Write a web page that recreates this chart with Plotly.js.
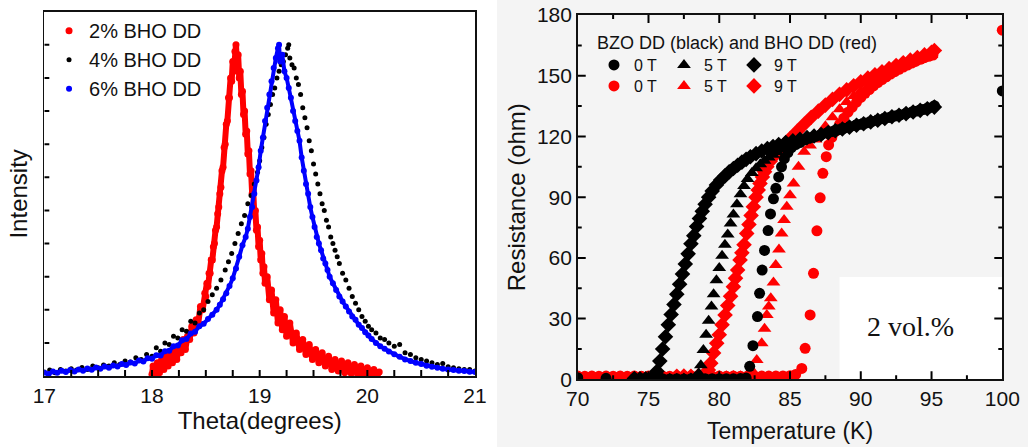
<!DOCTYPE html>
<html>
<head>
<meta charset="utf-8">
<script src="https://cdn.plot.ly/plotly-3.0.1.min.js"></script>
<style>html,body{margin:0;padding:0;background:#fff;}#chart{width:1028px;height:447px;}</style>
</head>
<body>
<div id="chart"></div>
<script>
// ---------- Left panel: XRD peaks (Theta in degrees, normalized intensity) ----------
const bho2pct = [[18.00,0.005],[18.01,0.03],[18.03,0.00],[18.05,0.04],[18.07,0.01],[18.09,0.05],[18.11,0.02],[18.13,0.06],[18.15,0.03],[18.17,0.07],[18.19,0.04],[18.21,0.08],[18.23,0.05],[18.25,0.09],[18.27,0.07],[18.29,0.11],[18.31,0.08],[18.33,0.12],[18.35,0.11],[18.37,0.15],[18.39,0.13],[18.41,0.17],[18.43,0.16],[18.45,0.21],[18.47,0.20],[18.49,0.25],[18.50,0.24],[18.51,0.28],[18.52,0.27],[18.53,0.31],[18.54,0.31],[18.55,0.35],[18.56,0.35],[18.57,0.39],[18.58,0.40],[18.59,0.44],[18.60,0.45],[18.61,0.49],[18.62,0.51],[18.63,0.55],[18.64,0.57],[18.65,0.62],[18.66,0.63],[18.67,0.69],[18.68,0.70],[18.69,0.76],[18.70,0.77],[18.71,0.84],[18.72,0.84],[18.73,0.90],[18.74,0.89],[18.75,0.95],[18.76,0.92],[18.77,0.98],[18.78,1.00],[18.79,0.94],[18.80,0.97],[18.81,0.90],[18.82,0.92],[18.83,0.85],[18.84,0.86],[18.85,0.79],[18.86,0.80],[18.87,0.73],[18.88,0.74],[18.89,0.67],[18.90,0.68],[18.91,0.61],[18.92,0.62],[18.93,0.55],[18.94,0.56],[18.95,0.49],[18.96,0.50],[18.97,0.44],[18.98,0.45],[18.99,0.39],[19.00,0.41],[19.01,0.35],[19.02,0.37],[19.03,0.31],[19.04,0.33],[19.05,0.28],[19.07,0.30],[19.09,0.23],[19.11,0.26],[19.13,0.19],[19.15,0.23],[19.17,0.16],[19.19,0.20],[19.21,0.14],[19.23,0.18],[19.25,0.12],[19.28,0.16],[19.31,0.10],[19.34,0.13],[19.37,0.08],[19.40,0.11],[19.43,0.065],[19.46,0.095],[19.49,0.05],[19.52,0.08],[19.55,0.04],[19.58,0.07],[19.61,0.03],[19.64,0.06],[19.67,0.02],[19.70,0.05],[19.73,0.015],[19.76,0.045],[19.79,0.01],[19.82,0.04],[19.85,0.008],[19.88,0.035],[19.91,0.005],[19.94,0.03],[19.97,0.005],[20.00,0.025],[20.03,0.003],[20.06,0.02],[20.09,0.002],[20.11,0.012]];

const bho4pct = [[17.00,0.012],[17.05,0.018],[17.10,0.010],[17.15,0.020],[17.20,0.015],[17.25,0.022],[17.30,0.018],[17.35,0.026],[17.40,0.020],[17.45,0.030],[17.50,0.025],[17.55,0.033],[17.60,0.030],[17.65,0.040],[17.70,0.035],[17.75,0.045],[17.80,0.042],[17.85,0.055],[17.90,0.050],[17.95,0.065],[18.00,0.060],[18.04,0.085],[18.08,0.075],[18.12,0.100],[18.16,0.095],[18.20,0.120],[18.24,0.115],[18.28,0.140],[18.32,0.135],[18.36,0.165],[18.40,0.160],[18.44,0.190],[18.48,0.200],[18.52,0.225],[18.56,0.245],[18.60,0.265],[18.64,0.290],[18.68,0.320],[18.71,0.345],[18.74,0.370],[18.77,0.400],[18.80,0.430],[18.83,0.460],[18.86,0.485],[18.89,0.520],[18.92,0.545],[18.95,0.580],[18.98,0.615],[19.00,0.650],[19.02,0.690],[19.04,0.720],[19.06,0.760],[19.08,0.790],[19.10,0.820],[19.12,0.850],[19.14,0.870],[19.16,0.900],[19.18,0.920],[19.20,0.940],[19.22,0.950],[19.24,0.970],[19.26,0.990],[19.27,1.000],[19.28,0.960],[19.30,0.940],[19.32,0.930],[19.34,0.900],[19.36,0.880],[19.38,0.850],[19.40,0.810],[19.42,0.780],[19.44,0.750],[19.46,0.710],[19.48,0.680],[19.50,0.640],[19.52,0.610],[19.54,0.580],[19.56,0.550],[19.58,0.520],[19.60,0.500],[19.62,0.470],[19.64,0.450],[19.66,0.420],[19.68,0.400],[19.70,0.380],[19.72,0.360],[19.74,0.340],[19.77,0.310],[19.80,0.290],[19.83,0.265],[19.86,0.240],[19.89,0.220],[19.92,0.200],[19.95,0.180],[19.98,0.165],[20.01,0.150],[20.04,0.140],[20.08,0.130],[20.12,0.115],[20.16,0.110],[20.20,0.100],[20.25,0.090],[20.30,0.095],[20.35,0.070],[20.40,0.065],[20.45,0.055],[20.50,0.050],[20.55,0.045],[20.60,0.040],[20.65,0.035],[20.70,0.038],[20.75,0.028],[20.80,0.025],[20.85,0.022],[20.90,0.020],[20.95,0.020],[21.00,0.015]];

const bho6pct = [[17.00,0.010],[17.04,0.006],[17.08,0.014],[17.12,0.010],[17.16,0.016],[17.20,0.012],[17.24,0.018],[17.28,0.014],[17.32,0.020],[17.36,0.016],[17.40,0.023],[17.44,0.019],[17.48,0.026],[17.52,0.022],[17.56,0.029],[17.60,0.025],[17.64,0.032],[17.68,0.029],[17.72,0.036],[17.76,0.033],[17.80,0.041],[17.84,0.038],[17.88,0.047],[17.92,0.044],[17.96,0.054],[18.00,0.052],[18.04,0.063],[18.08,0.062],[18.12,0.075],[18.16,0.076],[18.20,0.090],[18.24,0.092],[18.28,0.108],[18.32,0.112],[18.36,0.128],[18.40,0.134],[18.44,0.150],[18.48,0.158],[18.52,0.172],[18.56,0.185],[18.60,0.200],[18.63,0.215],[18.66,0.232],[18.69,0.250],[18.72,0.272],[18.75,0.295],[18.78,0.325],[18.81,0.360],[18.84,0.395],[18.87,0.420],[18.89,0.445],[18.91,0.480],[18.93,0.510],[18.95,0.550],[18.97,0.590],[18.99,0.630],[19.01,0.680],[19.03,0.720],[19.05,0.770],[19.07,0.810],[19.09,0.850],[19.11,0.890],[19.13,0.930],[19.15,0.960],[19.17,0.990],[19.18,1.000],[19.19,0.950],[19.21,0.970],[19.23,0.920],[19.25,0.900],[19.27,0.870],[19.29,0.840],[19.31,0.800],[19.33,0.770],[19.35,0.740],[19.37,0.710],[19.39,0.660],[19.41,0.620],[19.43,0.580],[19.45,0.550],[19.47,0.510],[19.49,0.480],[19.51,0.450],[19.53,0.420],[19.55,0.400],[19.57,0.380],[19.59,0.355],[19.61,0.340],[19.63,0.320],[19.65,0.300],[19.68,0.280],[19.71,0.260],[19.74,0.240],[19.77,0.225],[19.80,0.210],[19.83,0.195],[19.86,0.180],[19.89,0.170],[19.92,0.155],[19.95,0.145],[19.98,0.132],[20.01,0.122],[20.04,0.112],[20.08,0.100],[20.12,0.090],[20.16,0.082],[20.20,0.074],[20.25,0.066],[20.30,0.058],[20.35,0.050],[20.40,0.045],[20.45,0.040],[20.50,0.036],[20.55,0.031],[20.60,0.028],[20.65,0.025],[20.70,0.022],[20.75,0.020],[20.80,0.018],[20.85,0.016],[20.90,0.015],[20.95,0.013],[21.00,0.012]];

const xrdNames = ['2% BHO DD', '4% BHO DD', '6% BHO DD'];
const thetaTicks = [17, 18, 19, 20, 21];
const thetaMinorStep = 0.25;
const intensityTicks = [0.1, 0.2, 0.3, 0.4, 0.5, 0.6, 0.7, 0.8, 0.9, 1.0];

// ---------- Right panel: R(T) curves (Temperature K, Resistance ohm) ----------
const bzo0T = [[70.0,0.8],[72.0,0.5],[74.0,0.4],[74.5,0.3],[75.0,0.3],[75.5,0.2],[76.0,0.3],[76.5,0.2],[77.0,0.3],[77.5,0.2],[78.0,0.3],[78.5,0.3],[79.0,0.3],[79.5,0.3],[80.0,0.3],[80.5,0.3],[81.0,0.3],[81.5,0.4],[81.9,0.6],[82.15,6.4],[82.38,16.6],[82.7,31],[82.85,42.5],[83.03,54],[83.2,63.7],[83.45,73.5],[83.62,81.7],[83.83,89.2],[84.0,94.4],[84.2,100],[84.4,105],[84.6,109],[84.85,112],[85.1,114.5],[85.4,116],[85.7,117],[86.0,118.3],[86.4,119.2],[86.8,120],[87.2,120.9],[87.6,121.7],[88.0,122.5],[88.4,123.3],[88.8,124],[89.2,124.7],[89.6,125.4],[90.0,126],[90.4,126.7],[90.8,127.4],[91.2,128.1],[91.6,128.8],[92.0,129.4],[92.4,130.1],[92.8,130.7],[93.2,131.3],[93.6,132],[94.0,132.6],[94.4,133.3],[94.8,134],[95.2,135.2],[100.0,142.5]];

const bzo5T = [[75.0,0.4],[75.5,0.3],[76.0,0.3],[76.5,0.3],[77.0,0.3],[77.5,0.4],[78.0,0.5],[78.3,1.2],[78.55,3],[78.7,7],[78.88,14.5],[79.07,22],[79.25,29],[79.45,36],[79.6,42],[79.8,49],[80.0,55],[80.2,61],[80.4,66.5],[80.6,71.5],[80.8,77],[81.0,81.5],[81.25,86.5],[81.5,91.5],[81.75,95.5],[82.0,99],[82.3,102],[82.6,104.3],[82.9,106.3],[83.2,108],[83.5,109.6],[83.8,111],[84.1,112.3],[84.5,113.8],[85.0,115.5],[85.5,116.8],[86.0,118],[86.5,119.3],[87.0,120.5],[87.5,121.5],[88.0,122.5],[88.5,123.5],[89.0,124.3],[89.5,125.2],[90.0,126],[90.5,126.9],[91.0,127.8],[91.5,128.6],[92.0,129.4],[92.5,130.2],[93.0,131],[93.5,131.8],[94.0,132.6],[94.5,133.4],[95.0,134.2]];

const bzo9T = [[74.0,0.4],[74.4,0.3],[74.8,0.3],[75.2,0.5],[75.45,1.5],[75.6,4],[75.8,9],[76.0,15],[76.2,21],[76.4,27],[76.6,32],[76.8,37],[77.0,42],[77.2,47],[77.4,52],[77.6,57],[77.8,62],[78.0,67],[78.2,71],[78.4,75.5],[78.6,79.5],[78.8,83],[79.0,86.5],[79.25,90],[79.5,93],[79.8,96],[80.1,98.5],[80.4,100.5],[80.7,102.5],[81.0,104.2],[81.3,105.8],[81.6,107.3],[81.9,108.7],[82.2,110],[82.6,111.5],[83.0,112.8],[83.4,114],[83.8,115],[84.2,116],[84.7,117],[85.2,117.8],[85.7,118.6],[86.2,119.4],[86.7,120.2],[87.2,121],[87.7,121.9],[88.2,122.8],[88.7,123.7],[89.2,124.6],[89.7,125.5],[90.2,126.3],[90.7,127.2],[91.2,128],[91.7,128.9],[92.2,129.7],[92.7,130.5],[93.2,131.3],[93.7,132.1],[94.2,132.9],[94.7,133.7],[95.2,134.5]];

const bho0T = [[70.0,1.6],[70.5,1.5],[71.0,1.6],[71.5,1.5],[72.0,1.6],[72.5,1.5],[73.0,1.6],[73.5,1.5],[74.0,1.6],[74.5,1.5],[75.0,1.6],[75.5,1.5],[76.0,1.6],[76.5,1.5],[77.0,1.6],[77.5,1.5],[78.0,1.6],[78.5,1.5],[79.0,1.6],[79.5,1.5],[80.0,1.6],[80.5,1.5],[81.0,1.6],[81.5,1.5],[82.0,1.6],[82.5,1.5],[83.0,1.6],[83.5,1.6],[84.0,1.6],[84.5,1.7],[85.0,1.8],[85.4,2.4],[85.83,5.4],[86.07,15.3],[86.42,31.8],[86.66,52.4],[86.9,73.4],[87.13,89.7],[87.32,101.8],[87.56,110],[87.73,115.8],[87.95,119.5],[88.2,122.5],[88.5,126],[88.8,129],[89.1,132],[89.4,134.5],[89.7,137],[90.0,139.3],[90.3,141.3],[90.6,143.2],[90.9,145],[91.2,146.6],[91.5,148.1],[91.8,149.5],[92.1,150.8],[92.4,152],[92.7,153.2],[93.0,154.3],[93.3,155.3],[93.6,156.3],[93.9,157.2],[94.2,158.1],[94.5,158.9],[94.8,159.6],[95.1,160.2],[100.0,172.5]];

const bho5T = [[79.5,1.5],[80.0,1.6],[80.5,1.5],[81.0,1.6],[81.5,1.5],[82.0,1.7],[82.41,3.5],[82.65,9.5],[83.0,17.8],[83.2,25],[83.36,31.8],[83.5,36],[83.64,40],[83.83,47.8],[83.99,56.5],[84.22,64.2],[84.41,72.1],[84.58,78.7],[84.77,85.3],[85.0,91],[85.25,96.8],[85.6,105],[86.0,112.5],[86.42,115.5],[86.8,118.5],[87.13,121.5],[87.5,125],[88.0,129.5],[88.5,133.5],[89.0,137],[89.5,140],[90.0,142.5],[90.5,144.8],[91.0,147],[91.5,149],[92.0,151],[92.5,152.8],[93.0,154.5],[93.5,156],[94.0,157.5],[94.5,159],[95.0,160.3]];

const bho9T = [[77.0,1.5],[77.5,1.6],[78.0,1.5],[78.5,1.6],[79.0,2.2],[79.23,4.6],[79.4,8],[79.6,13],[79.82,17.8],[80.0,22],[80.2,27],[80.41,31.8],[80.6,36.5],[80.8,41],[81.0,45.8],[81.15,50],[81.3,54],[81.47,59],[81.6,62.5],[81.75,66.5],[81.94,72.1],[82.1,76.5],[82.25,81],[82.41,85.3],[82.6,90],[82.75,93.5],[82.88,96.8],[83.05,100],[83.2,102.5],[83.36,105],[83.6,107.8],[83.83,110],[84.2,113],[84.6,116],[85.0,119],[85.5,122.5],[86.0,126],[86.5,129.5],[87.0,132.5],[87.5,135.5],[88.0,138.3],[88.5,140.8],[89.0,143],[89.5,145],[90.0,147],[90.5,148.8],[91.0,150.5],[91.5,152],[92.0,153.5],[92.5,155],[93.0,156.4],[93.5,157.7],[94.0,159],[94.5,160.3],[95.0,161.6],[95.2,162.5]];

const fieldNames = ['0 T', '5 T', '9 T'];
const legendTitle = 'BZO DD (black) and BHO DD (red)';
const tempTicks = [70, 75, 80, 85, 90, 95, 100];
const tempMinorStep = 2.5;
const resTicks = [0, 30, 60, 90, 120, 150, 180];
const resMinorStep = 15;

const X = a => a.map(p => p[0]);
const Y = a => a.map(p => p[1]);

// dense measurement band drawn as a thick trace behind the dots (not in legend)
function xrdBand(arr, color, lw) {
  return {x: X(arr), y: Y(arr), xaxis: 'x', yaxis: 'y', type: 'scatter', mode: 'lines',
    showlegend: false, hoverinfo: 'skip', line: {color: color, width: lw}};
}
function xrd(arr, name, color, size) {
  return {x: X(arr), y: Y(arr), name: name, xaxis: 'x', yaxis: 'y', legend: 'legend',
    type: 'scatter', mode: 'markers', cliponaxis: true, marker: {color: color, size: size}};
}
function rt(arr, name, color, symbol, size, lg) {
  return {x: X(arr), y: Y(arr), name: name, xaxis: 'x2', yaxis: 'y2', legend: lg,
    type: 'scatter', mode: 'markers', cliponaxis: true,
    marker: {color: color, size: size, symbol: symbol, line: {width: 0}}};
}

// ---- geometry of the two panels ----
const W = 1028, H = 447;
const dom = {x1: [0.0431, 0.4621], y1: [0.1588, 0.9738], x2: [0.562, 0.975], y2: [0.1514, 0.9664]};
const rng = {x1: [17, 21], y1: [0, 1.1], x2: [70, 100], y2: [0, 180]};
// size of one pixel in data units for each axis
const px = {
  x1: (rng.x1[1] - rng.x1[0]) / ((dom.x1[1] - dom.x1[0]) * W),
  y1: (rng.y1[1] - rng.y1[0]) / ((dom.y1[1] - dom.y1[0]) * H),
  x2: (rng.x2[1] - rng.x2[0]) / ((dom.x2[1] - dom.x2[0]) * W),
  y2: (rng.y2[1] - rng.y2[0]) / ((dom.y2[1] - dom.y2[0]) * H)
};

// inward tick marks along the frames, built from the axis tick values
function tickTrace(xa, ya, segs) {
  const x = [], y = [];
  segs.forEach(s => { x.push(s[0], s[2], null); y.push(s[1], s[3], null); });
  return {x: x, y: y, xaxis: xa, yaxis: ya, type: 'scatter', mode: 'lines', showlegend: false,
    hoverinfo: 'skip', line: {color: '#000000', width: 2}};
}
const leftSegs = [];
for (let v = thetaTicks[0] + thetaMinorStep; v < thetaTicks[thetaTicks.length - 1] - 1e-9; v += thetaMinorStep) {
  leftSegs.push([v, rng.y1[0], v, rng.y1[0] + 6 * px.y1]);
}
intensityTicks.forEach(v => leftSegs.push([rng.x1[0], v, rng.x1[0] + 5 * px.x1, v]));
const rightSegs = [];
for (let v = tempTicks[0] + tempMinorStep; v < tempTicks[tempTicks.length - 1] - 1e-9; v += tempMinorStep) {
  const len = tempTicks.indexOf(Math.round(v * 10) / 10) >= 0 ? 8 : 4;
  rightSegs.push([v, rng.y2[0], v, rng.y2[0] + len * px.y2]);
  rightSegs.push([v, rng.y2[1], v, rng.y2[1] - len * px.y2]);
}
for (let v = resTicks[0] + resMinorStep; v < resTicks[resTicks.length - 1] - 1e-9; v += resMinorStep) {
  const len = resTicks.indexOf(v) >= 0 ? 8 : 4;
  rightSegs.push([rng.x2[0], v, rng.x2[0] + len * px.x2, v]);
  rightSegs.push([rng.x2[1], v, rng.x2[1] - len * px.x2, v]);
}

const data = [
  xrdBand(bho2pct, '#ff0000', 6),
  xrd(bho2pct, xrdNames[0], '#ff0000', 7),
  xrd(bho4pct, xrdNames[1], '#000000', 5),
  xrdBand(bho6pct, '#0000ff', 4),
  xrd(bho6pct, xrdNames[2], '#0000ff', 6),
  rt(bho0T, fieldNames[0], '#ff0000', 'circle', 11, 'legend3'),
  rt(bho5T, fieldNames[1], '#ff0000', 'triangle-up', 12, 'legend3'),
  rt(bho9T, fieldNames[2], '#ff0000', 'diamond', 12, 'legend3'),
  rt(bzo0T, fieldNames[0], '#000000', 'circle', 11, 'legend2'),
  rt(bzo5T, fieldNames[1], '#000000', 'triangle-up', 12, 'legend2'),
  rt(bzo9T, fieldNames[2], '#000000', 'diamond', 12, 'legend2'),
  tickTrace('x', 'y', leftSegs),
  tickTrace('x2', 'y2', rightSegs)
];

const FONT = 'Liberation Sans, Arial, Helvetica, sans-serif';
const axisCommon = {showgrid: false, zeroline: false, showline: true, linecolor: '#111', linewidth: 1.6,
  ticks: '', tickfont: {family: FONT, size: 21, color: '#111'}};

const layout = {
  width: W, height: H,
  margin: {l: 0, r: 0, t: 0, b: 0},
  paper_bgcolor: '#ffffff', plot_bgcolor: 'rgba(0,0,0,0)',
  font: {family: FONT, color: '#111'},
  showlegend: true,
  xaxis: Object.assign({}, axisCommon, {domain: dom.x1, anchor: 'y', range: rng.x1,
    tickmode: 'array', tickvals: thetaTicks, ticktext: thetaTicks.map(String), mirror: true,
    title: {text: 'Theta(degrees)', font: {family: FONT, size: 24, color: '#111'}, standoff: 4}}),
  yaxis: Object.assign({}, axisCommon, {domain: dom.y1, anchor: 'x', range: rng.y1,
    tickmode: 'array', tickvals: intensityTicks, showticklabels: false, mirror: true,
    title: {text: 'Intensity', font: {family: FONT, size: 24, color: '#111'}, standoff: 8}}),
  xaxis2: Object.assign({}, axisCommon, {domain: dom.x2, anchor: 'y2', range: rng.x2,
    tickmode: 'array', tickvals: tempTicks, ticktext: tempTicks.map(String), mirror: true,
    title: {text: 'Temperature (K)', font: {family: FONT, size: 23, color: '#111'}, standoff: 14}}),
  yaxis2: Object.assign({}, axisCommon, {domain: dom.y2, anchor: 'x2', range: rng.y2,
    tickmode: 'array', tickvals: resTicks, ticktext: resTicks.map(String), mirror: true,
    title: {text: 'Resistance (ohm)', font: {family: FONT, size: 24, color: '#111'}, standoff: 4}}),
  legend: {x: 0.0477, xanchor: 'left', y: 0.975, yanchor: 'top', bgcolor: 'rgba(0,0,0,0)',
    font: {family: FONT, size: 20, color: '#111'}, tracegroupgap: 0, itemwidth: 30},
  legend2: {x: 0.5778, xanchor: 'left', y: 0.8926, yanchor: 'top', orientation: 'h', bgcolor: 'rgba(0,0,0,0)',
    font: {family: FONT, size: 16, color: '#111'}, entrywidth: 25, entrywidthmode: 'pixels'},
  legend3: {x: 0.5778, xanchor: 'left', y: 0.8456, yanchor: 'top', orientation: 'h', bgcolor: 'rgba(0,0,0,0)',
    font: {family: FONT, size: 16, color: '#111'}, entrywidth: 25, entrywidthmode: 'pixels'},
  shapes: [
    {type: 'rect', xref: 'paper', yref: 'paper', x0: 0.4835, x1: 1, y0: 0, y1: 1, layer: 'below',
      fillcolor: '#f4f4f4', line: {width: 0}},
    {type: 'rect', xref: 'x2', yref: 'y2', x0: 88.5, x1: 100, y0: 0, y1: 50.5, layer: 'below',
      fillcolor: '#ffffff', line: {width: 0}}
  ],
  annotations: [
    {text: legendTitle, xref: 'paper', yref: 'paper', x: 0.5788, xanchor: 'left', y: 0.9038, yanchor: 'middle',
      showarrow: false, font: {family: FONT, size: 18, color: '#111'}},
    {text: '2 vol.%', xref: 'x2', yref: 'y2', x: 93.5, y: 26, showarrow: false,
      font: {family: 'Liberation Serif, Times New Roman, serif', size: 28, color: '#111'}}
  ]
};

Plotly.newPlot('chart', data, layout, {displayModeBar: false, staticPlot: true});
</script>
</body>
</html>
